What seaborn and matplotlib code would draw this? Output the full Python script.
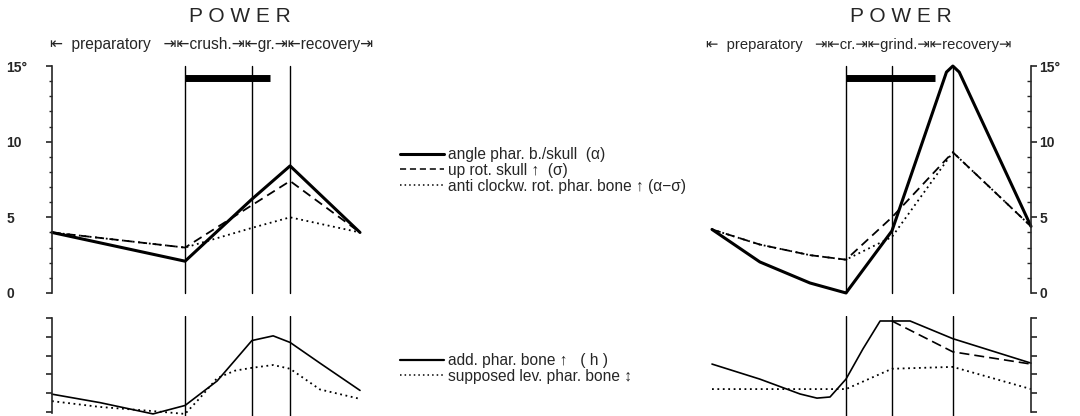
import matplotlib
matplotlib.use("Agg")
import matplotlib.pyplot as plt
import seaborn as sns
from matplotlib.lines import Line2D

# x = % of the chewing cycle, y = degrees (top) / arbitrary units (bottom)

# ---- left chart ----
L_phases = [43.2, 64.9, 77.3]
L_bar = [43.2, 70.8]
L_top_x = [0, 43.2, 64.9, 77.3, 100]
L_alpha = [4.0, 2.1, 6.2, 8.4, 4.0]
L_sigma = [4.0, 3.0, 5.8, 7.4, 4.0]
L_diff = [4.0, 3.0, 4.3, 5.0, 4.0]
L_h_x = [0, 15.6, 32.8, 43.2, 53.6, 59.4, 64.9, 71.8, 77.3, 87.0, 100]
L_h = [0.95, 0.5, -0.1, 0.35, 1.65, 2.75, 3.8, 4.05, 3.7, 2.6, 1.15]
L_lev_x = [0, 15.6, 32.8, 43.2, 48.1, 53.6, 59.4, 64.9, 71.8, 77.3, 87.0, 100]
L_lev = [0.58, 0.27, 0.05, -0.1, 0.76, 1.8, 2.2, 2.35, 2.5, 2.3, 1.2, 0.7]

# ---- right chart ----
R_phases = [42.0, 56.4, 75.5]
R_bar = [42.0, 69.9]
R_alpha_x = [0, 15.0, 30.7, 42.0, 56.4, 73.5, 75.5, 77.5, 100]
R_alpha = [4.2, 2.05, 0.66, 0.0, 4.1, 14.6, 15.0, 14.6, 4.4]
R_top_x = [0, 15.0, 30.7, 42.0, 56.4, 75.5, 100]
R_sigma = [4.2, 3.2, 2.5, 2.2, 5.0, 9.3, 4.4]
R_diff = [4.2, 3.2, 2.5, 2.2, 3.7, 9.3, 4.4]
R_h_x = [0, 15.0, 27.6, 32.9, 37.0, 42.0, 47.3, 52.7, 62.1, 75.5, 100]
R_h = [2.55, 1.75, 0.96, 0.74, 0.8, 1.75, 3.35, 4.84, 4.84, 3.9, 2.6]
R_h2_x = [56.4, 75.5, 100]
R_h2 = [4.84, 3.2, 2.55]
R_lev_x = [0, 42.0, 56.4, 75.5, 100]
R_lev = [1.22, 1.22, 2.3, 2.4, 1.22]

top_ticks = [0, 5, 10, 15]
top_ticklabels = ["0", "5", "10", "15°"]
L_header = "⇤  preparatory   ⇥⇤crush.⇥⇤gr.⇥⇤recovery⇥"
R_header = "⇤  preparatory   ⇥⇤cr.⇥⇤grind.⇥⇤recovery⇥"
top_labels = ["angle phar. b./skull  (α)", "up rot. skull ↑  (σ)",
              "anti clockw. rot. phar. bone ↑ (α−σ)"]
bot_labels = ["add. phar. bone ↑   ( h )", "supposed lev. phar. bone ↕"]

sns.set_style("ticks")
plt.rcParams["font.family"] = ["Liberation Sans", "DejaVu Sans"]

fig = plt.figure(figsize=(10.8, 4.16), dpi=100)

W, H = 1080, 416
def axes_px(x0, x1, y_top, y_bot):
    return fig.add_axes([x0 / W, 1 - y_bot / H, (x1 - x0) / W, (y_bot - y_top) / H])

ax_lt = axes_px(52, 360, 61.5, 297.5)
ax_lb = axes_px(52, 360, 316.1, 415.8)
ax_rt = axes_px(712, 1031, 61.5, 297.5)
ax_rb = axes_px(712, 1031, 316.1, 415.8)

SOLID = "-"
DASH = (0, (5, 3))
DOT = (0, (1, 2))

def line(ax, x, y, lw, ls):
    sns.lineplot(x=x, y=y, ax=ax, color="black", linewidth=lw, linestyle=ls,
                 estimator=None, clip_on=False)

# top panels
line(ax_lt, L_top_x, L_sigma, 1.3, DASH)
line(ax_lt, L_top_x, L_diff, 1.3, DOT)
line(ax_lt, L_top_x, L_alpha, 2.2, SOLID)
line(ax_rt, R_top_x, R_sigma, 1.3, DASH)
line(ax_rt, R_top_x, R_diff, 1.3, DOT)
line(ax_rt, R_alpha_x, R_alpha, 2.2, SOLID)

# bottom panels
line(ax_lb, L_lev_x, L_lev, 1.3, DOT)
line(ax_lb, L_h_x, L_h, 1.2, SOLID)
line(ax_rb, R_lev_x, R_lev, 1.3, DOT)
line(ax_rb, R_h2_x, R_h2, 1.2, (0, (6, 3)))
line(ax_rb, R_h_x, R_h, 1.2, SOLID)

# power-stroke bars
ax_lt.plot(L_bar, [14.2, 14.2], color="black", lw=5, solid_capstyle="butt")
ax_rt.plot(R_bar, [14.2, 14.2], color="black", lw=5, solid_capstyle="butt")

for ax, phases, top in [(ax_lt, L_phases, 15), (ax_rt, R_phases, 15),
                        (ax_lb, L_phases, 5.1), (ax_rb, R_phases, 5.1)]:
    lo = 0 if top == 15 else -0.2
    for px in phases:
        ax.plot([px, px], [lo, top], color="black", lw=1.0)

for ax in (ax_lt, ax_rt):
    ax.set_ylim(-0.3, 15.3)
    ax.set_yticks(top_ticks)
    ax.set_yticklabels(top_ticklabels, fontsize=10, fontweight="bold")
    ax.set_yticks(range(16), minor=True)
for ax in (ax_lb, ax_rb):
    ax.set_ylim(-0.2, 5.1)
    ax.set_yticks(range(6))
    ax.set_yticklabels([])

for ax in (ax_lt, ax_lb, ax_rt, ax_rb):
    ax.set_xlim(0, 100)
    ax.set_xticks([])
    ax.set_xlabel("")
    ax.set_ylabel("")
    ax.patch.set_alpha(0)
    for s in ("top", "bottom"):
        ax.spines[s].set_visible(False)

# left axes
for ax in (ax_lt, ax_lb):
    ax.spines["right"].set_visible(False)
    ax.spines["left"].set_linewidth(1.2)
ax_lt.spines["left"].set_bounds(0, 15)
ax_lb.spines["left"].set_bounds(-0.05, 5)
ax_lt.tick_params(axis="y", which="major", direction="out", length=4, width=1.2, pad=29)
ax_lt.tick_params(axis="y", which="minor", direction="out", length=2.5, width=1)
for t in ax_lt.get_yticklabels():
    t.set_horizontalalignment("left")
ax_lb.tick_params(axis="y", direction="out", length=4, width=1.2)

# right axes
for ax in (ax_rt, ax_rb):
    ax.spines["left"].set_visible(False)
    ax.spines["right"].set_visible(True)
    ax.spines["right"].set_linewidth(1.2)
    ax.yaxis.tick_right()
ax_rt.spines["right"].set_bounds(0, 15)
ax_rb.spines["right"].set_bounds(0, 5)
ax_rt.tick_params(axis="y", which="major", direction="out", length=4, width=1.2, pad=2)
ax_rt.tick_params(axis="y", which="minor", direction="in", length=3, width=1)
ax_rb.tick_params(axis="y", direction="out", length=4, width=1.2)

# headers
fig.text(240 / W, 1 - 17 / H, "P O W E R", ha="center", va="center", fontsize=15)
fig.text(901 / W, 1 - 17 / H, "P O W E R", ha="center", va="center", fontsize=15)
fig.text(50 / W, 1 - 45 / H, L_header, ha="left", va="center", fontsize=11.2)
fig.text(706 / W, 1 - 45 / H, R_header, ha="left", va="center", fontsize=10.6)

# legends
top_handles = [Line2D([], [], color="black", lw=2.2, ls=SOLID),
               Line2D([], [], color="black", lw=1.1, ls=(0, (4, 2.5))),
               Line2D([], [], color="black", lw=1.1, ls=DOT)]
bot_handles = [Line2D([], [], color="black", lw=1.6, ls=SOLID),
               Line2D([], [], color="black", lw=1.1, ls=DOT)]
leg_kw = dict(loc="upper left", frameon=False, fontsize=11.2, handlelength=2.8,
              handletextpad=0.3, labelspacing=0.05, borderpad=0, borderaxespad=0)
fig.legend(handles=top_handles, labels=top_labels,
           bbox_to_anchor=(400 / W, 1 - 147 / H), **leg_kw)
fig.legend(handles=bot_handles, labels=bot_labels,
           bbox_to_anchor=(400 / W, 1 - 353 / H), **leg_kw)

fig.savefig("out.png", dpi=100)
